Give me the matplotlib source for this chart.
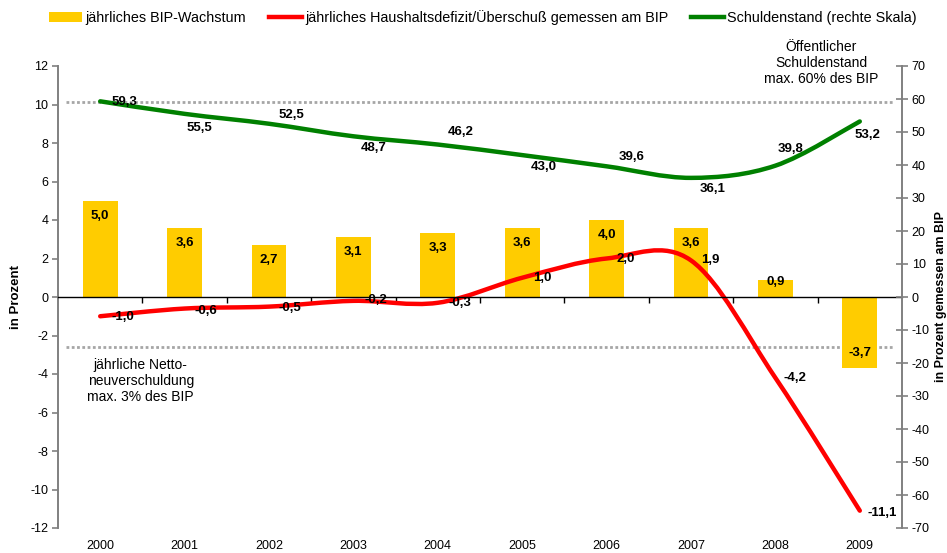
import numpy as np
import matplotlib
matplotlib.use('Agg')
import matplotlib.pyplot as plt
from matplotlib.path import Path
from matplotlib.patches import PathPatch, Patch
from matplotlib.lines import Line2D
from matplotlib.transforms import blended_transform_factory

plt.rcParams['font.family'] = ['Liberation Sans', 'DejaVu Sans']
plt.rcParams['axes.unicode_minus'] = False

# Daten
jahre = ['2000', '2001', '2002', '2003', '2004', '2005', '2006', '2007', '2008', '2009']
bip_wachstum = [5.0, 3.6, 2.7, 3.1, 3.3, 3.6, 4.0, 3.6, 0.9, -3.7]
haushaltssaldo = [-1.0, -0.6, -0.5, -0.2, -0.3, 1.0, 2.0, 1.9, -4.2, -11.1]
schuldenstand = [59.3, 55.5, 52.5, 48.7, 46.2, 43.0, 39.6, 36.1, 39.8, 53.2]
grenze_schulden = 59.2   # rechte Skala
grenze_defizit = -2.6    # linke Skala

legende = ['jährliches BIP-Wachstum',
           'jährliches Haushaltsdefizit/Überschuß gemessen am BIP',
           'Schuldenstand (rechte Skala)']

GOLD = '#FFCC00'
ROT = '#FF0000'
GRUEN = '#008000'
GRAU = '#808080'

# Label-Versatz in Pixeln (nur Layout)
off_bar = [-15, -15, -15, -15, -15, -15, -15, -15, -2, 15]
off_rot = [(23, -1), (21, -2), (21, -1), (22, 1), (22, 0), (20, 0), (19, 0), (19, 0), (20, 0), (22, -2)]
off_gruen = [(24, -1), (15, -14), (22, 9), (20, -12), (23, 13), (22, -12), (25, 9), (22, -11), (15, 17), (8, -14)]


def fmt(v):
    return f'{v:.1f}'.replace('.', ',')


def glatter_pfad(x, y):
    # geglättete Linie wie in Excel (Bezier durch die Punkte)
    pts = np.column_stack([x, y]).astype(float)
    n = len(pts)
    verts = [pts[0]]
    codes = [Path.MOVETO]
    for i in range(n - 1):
        p0 = pts[i - 1] if i > 0 else pts[i]
        p3 = pts[i + 2] if i + 2 < n else pts[i + 1]
        c1 = pts[i] + (pts[i + 1] - p0) / 6
        c2 = pts[i + 1] - (p3 - pts[i]) / 6
        verts += [c1, c2, pts[i + 1]]
        codes += [Path.CURVE4] * 3
    return Path(verts, codes)


fig = plt.figure(figsize=(9.47, 5.53), dpi=100)
ax = fig.add_axes([58 / 947, 1 - 528 / 553, 844 / 947, 462 / 553])
ax2 = ax.twinx()

x = np.arange(len(jahre))

ax.set_xlim(-0.5, len(jahre) - 0.5)
ax.set_ylim(-12, 12)
ax2.set_ylim(-70, 70)

# Grenzlinien
ax2.axhline(grenze_schulden, xmin=0.01, xmax=0.99, color='#A6A6A6', lw=2.0,
            linestyle=(0, (1, 0.9)), zorder=1)
ax.axhline(grenze_defizit, xmin=0.01, xmax=0.99, color='#A6A6A6', lw=2.0,
           linestyle=(0, (1, 0.9)), zorder=1)

# Balken
bars = ax.bar(x, bip_wachstum, width=0.41, color=GOLD, zorder=2)
for xi, v, o in zip(x, bip_wachstum, off_bar):
    ax.annotate(fmt(v), (xi, v), xytext=(0, o), textcoords='offset pixels',
                ha='center', va='center', fontsize=9.5, fontweight='bold', zorder=5)

# rote Linie
ax.add_patch(PathPatch(glatter_pfad(x, haushaltssaldo), facecolor='none', edgecolor=ROT,
                       lw=3.2, capstyle='round', joinstyle='round', zorder=3))
for xi, v, o in zip(x, haushaltssaldo, off_rot):
    ax.annotate(fmt(v), (xi, v), xytext=o, textcoords='offset pixels',
                ha='center', va='center', fontsize=9.5, fontweight='bold', zorder=5)

# grüne Linie
ax2.add_patch(PathPatch(glatter_pfad(x, schuldenstand), facecolor='none', edgecolor=GRUEN,
                        lw=3.2, capstyle='round', joinstyle='round', zorder=3))
for xi, v, o in zip(x, schuldenstand, off_gruen):
    ax2.annotate(fmt(v), (xi, v), xytext=o, textcoords='offset pixels',
                 ha='center', va='center', fontsize=9.5, fontweight='bold', zorder=5)

# Achsen
ax.spines['top'].set_visible(False)
ax.spines['right'].set_visible(False)
ax2.spines['top'].set_visible(False)
ax2.spines['left'].set_visible(False)
ax2.spines['bottom'].set_visible(False)
ax.spines['left'].set_color(GRAU)
ax.spines['left'].set_linewidth(1.4)
ax2.spines['right'].set_color(GRAU)
ax2.spines['right'].set_linewidth(1.4)
ax.spines['bottom'].set_position(('data', 0))
ax.spines['bottom'].set_color('black')
ax.spines['bottom'].set_linewidth(1.0)
ax.spines['bottom'].set_zorder(4)

ax.set_xticks(x[:-1] + 0.5)
ax.set_xticklabels([])
ax.tick_params(axis='x', direction='out', length=4, width=1, color='black')

ax.set_yticks(np.arange(-12, 13, 2))
ax.tick_params(axis='y', direction='out', length=4, width=1.2, color=GRAU, labelsize=9, pad=3)
ax2.set_yticks(np.arange(-70, 71, 10))
ax2.tick_params(axis='y', direction='inout', length=8, width=1.2, color=GRAU, labelsize=9, pad=3)

trans = blended_transform_factory(ax.transData, ax.transAxes)
for xi, j in zip(x, jahre):
    ax.text(xi, -0.04, j, transform=trans, ha='center', va='center', fontsize=9)

ax.set_ylabel('in Prozent', fontsize=9.5, fontweight='bold')
ax.yaxis.set_label_coords(-0.043, 0.5)
ax2.set_ylabel('in Prozent gemessen am BIP', fontsize=9, fontweight='bold',
               rotation=90)
ax2.yaxis.set_label_coords(1.039, 0.5)

# Hinweistexte
ax2.text(8.54, 70.9, 'Öffentlicher\nSchuldenstand\nmax. 60% des BIP', ha='center', va='center',
         fontsize=10, linespacing=1.15)
ax.text(0.48, -4.36, 'jährliche Netto-\nneuverschuldung\nmax. 3% des BIP', ha='center', va='center',
        fontsize=10, linespacing=1.15)

handles = [Patch(facecolor=GOLD, edgecolor='none'),
           Line2D([], [], color=ROT, lw=3.2),
           Line2D([], [], color=GRUEN, lw=3.2)]
fig.legend(handles, legende, loc='center', bbox_to_anchor=(0.51, 1 - 18 / 553), ncol=3,
           frameon=False, fontsize=10.4, handlelength=2.3, handletextpad=0.2,
           columnspacing=1.6)

fig.savefig('out.png', dpi=100)
